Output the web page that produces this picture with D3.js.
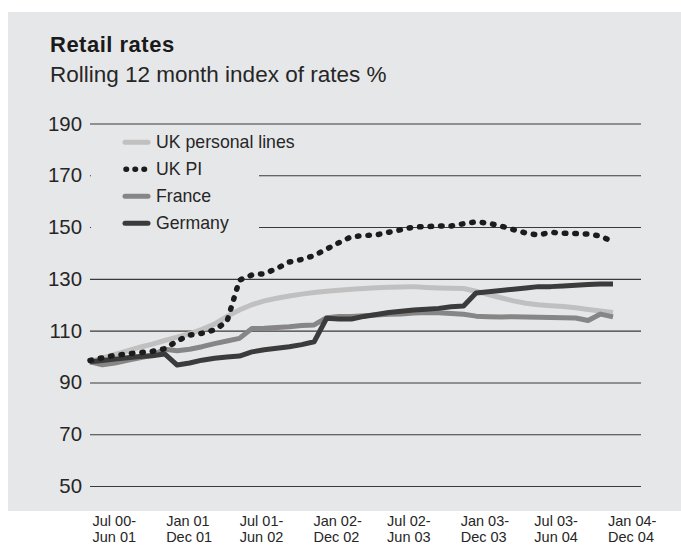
<!DOCTYPE html>
<html>
<head>
<meta charset="utf-8">
<script src="https://cdn.jsdelivr.net/npm/d3@7"></script>
<style>
  html, body { margin: 0; padding: 0; background: #ffffff; }
  svg { display: block; font-family: "Liberation Sans", Arial, sans-serif; }
</style>
</head>
<body>
<svg id="chart" width="681" height="546"></svg>
<script>
// ---- DATA ----
const months = [
  "Jun 01","Jul 01","Aug 01","Sep 01","Oct 01","Nov 01","Dec 01",
  "Jan 02","Feb 02","Mar 02","Apr 02","May 02","Jun 02",
  "Jul 02","Aug 02","Sep 02","Oct 02","Nov 02","Dec 02",
  "Jan 03","Feb 03","Mar 03","Apr 03","May 03","Jun 03",
  "Jul 03","Aug 03","Sep 03","Oct 03","Nov 03","Dec 03",
  "Jan 04","Feb 04","Mar 04","Apr 04","May 04","Jun 04",
  "Jul 04","Aug 04","Sep 04","Oct 04","Nov 04","Dec 04"
];

const ukPersonalLines = [
  98, 99.5, 100.8, 102.2, 103.6, 104.8, 106.2,
  107.5, 108.8, 110.5, 112.5, 115.5, 118,
  120, 121.5, 122.5, 123.4, 124.1, 124.7,
  125.2, 125.6, 126, 126.3, 126.6, 126.8,
  126.9, 127, 126.7, 126.5, 126.4, 126.3,
  125.2, 123.9, 122.7, 121.5, 120.6, 120,
  119.6, 119.3, 118.8, 118.2, 117.6, 117
];

const ukPI = [
  98.5, 99.5, 100.5, 101, 101.5, 102, 103,
  106, 108.3, 109, 110.3, 113.5, 129.5,
  131.5, 132, 134, 136.5, 137.5, 139,
  141.5, 144, 146.3, 146.7, 147, 148,
  149, 150, 150.2, 150.4, 150.4, 151.3,
  152, 151.5, 150.4, 149, 147.7, 146.9,
  148, 147.6, 147.5, 147.3, 146.5, 144.3
];

const france = [
  98, 96.8, 97.5, 98.5, 99.5, 100.5, 102.8,
  102.2, 102.8, 103.8, 105, 106, 107,
  110.8, 110.9, 111.2, 111.5, 112, 112.2,
  115, 115.5, 115.5, 115.8, 116, 116.3,
  116.4, 116.8, 117, 116.9, 116.6, 116.3,
  115.6, 115.4, 115.3, 115.4, 115.3, 115.2,
  115.1, 115, 114.9, 113.9, 116.4, 115.3
];

const germany = [
  98, 98.5, 99, 99.5, 100, 100.3, 101,
  96.7, 97.5, 98.6, 99.3, 99.8, 100.2,
  101.8, 102.6, 103.2, 103.8, 104.6, 105.7,
  114.8, 114.5, 114.5, 115.5, 116.2, 117,
  117.5, 118, 118.3, 118.6, 119.2, 119.5,
  124.5, 125, 125.5, 126, 126.5, 127,
  127, 127.2, 127.5, 127.8, 128, 128
];

const seriesNames = ["UK personal lines", "UK PI", "France", "Germany"];
const yTicks = [50, 70, 90, 110, 130, 150, 170, 190];
const xTickLabels = [
  ["Jul 00-", "Jun 01"], ["Jan 01", "Dec 01"], ["Jul 01-", "Jun 02"],
  ["Jan 02-", "Dec 02"], ["Jul 02-", "Jun 03"], ["Jan 03-", "Dec 03"],
  ["Jul 03-", "Jun 04"], ["Jan 04-", "Dec 04"]
];
const titleText = "Retail rates";
const subtitleText = "Rolling 12 month index of rates %";

// ---- STYLES ----
const styles = {
  "UK personal lines": { color: "#c0c0c1", width: 5, dash: null },
  "UK PI":             { color: "#1c1c1c", width: 5.5, dash: "1.5 9" },
  "France":            { color: "#868687", width: 5, dash: null },
  "Germany":           { color: "#3b3b3c", width: 5, dash: null }
};
const values = {
  "UK personal lines": ukPersonalLines,
  "UK PI": ukPI,
  "France": france,
  "Germany": germany
};
const bg = "#e6e7e9";
const textColor = "#262626";

const svg = d3.select("#chart");

// background panel
svg.append("rect").attr("x", 8).attr("y", 12).attr("width", 673).attr("height", 499).attr("fill", bg);

// titles
svg.append("text").attr("x", 50).attr("y", 52).attr("font-size", 22).attr("font-weight", "bold")
  .attr("letter-spacing", 0.5).attr("fill", "#1a1a1a").text(titleText);
svg.append("text").attr("x", 50).attr("y", 82).attr("font-size", 22.5)
  .attr("fill", textColor).text(subtitleText);

// scales
const x = d3.scalePoint().domain(months).range([90, 613]);
const y = d3.scaleLinear().domain([50, 190]).range([486, 123.5]);
const gridRight = 641;

// grid + y labels
const yAxis = d3.axisLeft(y).tickValues(yTicks).tickSize(-(gridRight - 90)).tickPadding(8);
const gy = svg.append("g").attr("transform", "translate(90,0)").call(yAxis);
gy.select(".domain").remove();
gy.selectAll(".tick line").attr("stroke", "#3a3a3a").attr("stroke-width", 1.1);
gy.selectAll(".tick text").attr("font-size", 20.4).attr("fill", textColor)
  .attr("font-family", "'Liberation Sans', Arial, sans-serif");

// legend background (covers gridlines)
const legendX = 123, legendY0 = 142.3, legendStep = 27;
svg.append("rect").attr("x", 91).attr("y", 131).attr("width", 168).attr("height", 105).attr("fill", bg);

// lines
const line = d3.line().x((d, i) => x(months[i])).y(d => y(d));
const drawOrder = ["UK personal lines", "France", "Germany", "UK PI"];
drawOrder.forEach(name => {
  const s = styles[name];
  const p = svg.append("path").datum(values[name])
    .attr("d", line)
    .attr("fill", "none")
    .attr("stroke", s.color)
    .attr("stroke-width", s.width)
    .attr("stroke-linejoin", "round")
    .attr("stroke-linecap", s.dash ? "round" : "butt");
  if (s.dash) p.attr("stroke-dasharray", s.dash);
});

// legend
const lg = svg.append("g");
seriesNames.forEach((name, i) => {
  const s = styles[name];
  const yy = legendY0 + i * legendStep;
  const l = lg.append("line").attr("x1", legendX + 2).attr("x2", legendX + 25)
    .attr("y1", yy).attr("y2", yy)
    .attr("stroke", s.color).attr("stroke-width", s.width)
    .attr("stroke-linecap", "round");
  if (s.dash) l.attr("stroke-dasharray", "0.5 8.5").attr("x1", legendX + 3).attr("x2", legendX + 25);
  lg.append("text").attr("x", legendX + 33).attr("y", yy).attr("dy", "0.35em")
    .attr("font-size", 17.7).attr("fill", textColor).text(name);
});

// x labels (two separate lines each)
const xl = d3.scalePoint().domain(xTickLabels.map(d => d[0] + d[1]))
  .range([x(months[0]) + 2.5, x(months[months.length - 1]) - 5]);
const gx = svg.append("g");
xTickLabels.forEach(d => {
  const px = xl(d[0] + d[1]);
  gx.append("text").attr("x", px).attr("y", 525.5)
    .attr("font-size", 14.5).attr("fill", textColor).text(d[0]);
  gx.append("text").attr("x", px).attr("y", 542.3)
    .attr("font-size", 14.5).attr("fill", textColor).text(d[1]);
});
</script>
</body>
</html>
